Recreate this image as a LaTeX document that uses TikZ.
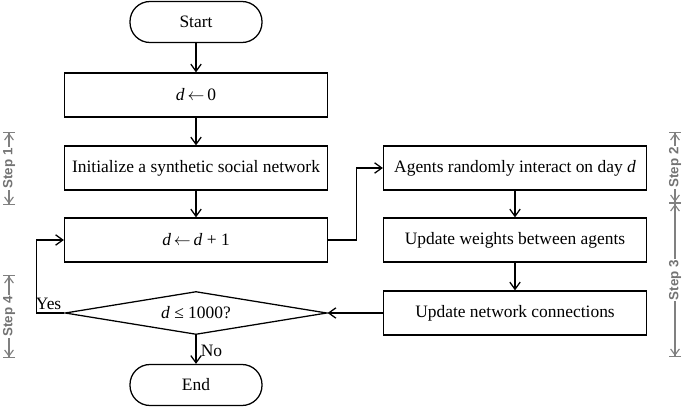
\documentclass[tikz,border=0pt]{standalone}
\usepackage{fontspec}
\setmainfont{Liberation Serif}
\setsansfont{Liberation Sans}
\usetikzlibrary{shapes.geometric,arrows.meta}

\begin{document}
\begin{tikzpicture}[font=\fontsize{12.4}{14}\selectfont]
    % Stili
    \tikzstyle{box}=[draw, line width=0.9pt, minimum width=6.575cm, minimum height=1.1cm]
    \tikzstyle{terminal}=[draw, line width=0.9pt, rounded corners=0.5cm, minimum width=3.3cm, minimum height=1.025cm]
    \tikzstyle{decision}=[draw, line width=0.9pt, diamond, aspect=6, inner sep=1pt, minimum width=6.55cm, minimum height=1.075cm]
    \tikzstyle{flow}=[-{Straight Barb[length=1.8mm,width=2.6mm]}, line width=0.9pt]
    \tikzstyle{stepline}=[gray, line width=0.8pt, {Bar[width=3mm] Straight Barb[length=1.5mm,width=2.2mm]}-{Straight Barb[length=1.5mm,width=2.2mm] Bar[width=3mm]}]
    \tikzstyle{steplabel}=[gray!90!black, fill=white, rotate=90, inner sep=1pt, font=\sffamily\bfseries\fontsize{9.5}{10}\selectfont]

    \useasboundingbox (0,0) rectangle (17.125,-10.225);

    % Colonna sinistra
    \node[terminal] (n_start) at (4.9,-0.55) {Start};
    \node[box] (n_zero) at (4.9,-2.375) {\textit{d}\,$\leftarrow$\,0};
    \node[box] (n_init) at (4.9,-4.2) {Initialize a synthetic social network};
    \node[box] (n_incr) at (4.9,-6.0) {\textit{d}\,$\leftarrow$\,\textit{d} + 1};
    \node[decision] (n_check) at (4.9,-7.825) {\textit{d} ≤ 1000?};
    \node[terminal] (n_end) at (4.9,-9.625) {End};

    % Colonna destra
    \node[box] (n_agents) at (12.875,-4.2) {Agents randomly interact on day \textit{d}};
    \node[box] (n_weights) at (12.875,-6.0) {Update weights between agents};
    \node[box] (n_network) at (12.875,-7.825) {Update network connections};

    % Frecce
    \draw[flow] (n_start) -- (n_zero);
    \draw[flow] (n_zero) -- (n_init);
    \draw[flow] (n_init) -- (n_incr);
    \draw[flow] (n_incr.east) -- ++(0.7,0) |- (n_agents.west);
    \draw[flow] (n_agents) -- (n_weights);
    \draw[flow] (n_weights) -- (n_network);
    \draw[flow] (n_network) -- (n_check);
    \draw[flow] (n_check.west) -- ++(-0.7,0) |- (n_incr.west);
    \node[anchor=south east, inner sep=2pt] (l_yes) at (n_check.west) {Yes};
    \draw[flow] (n_check) -- node[right, inner sep=3pt, yshift=-1pt] (l_no) {No} (n_end);

    % Passi
    \coordinate (s1_top) at (0.225,-3.3);
    \coordinate (s1_bot) at (0.225,-5.125);
    \coordinate (s4_top) at (0.225,-6.875);
    \coordinate (s4_bot) at (0.225,-8.95);
    \coordinate (s2_top) at (16.875,-3.3);
    \coordinate (s2_bot) at (16.875,-5.075);
    \coordinate (s3_bot) at (16.875,-8.925);
    \draw[stepline] (s1_top) -- node[steplabel] (l_s1) {Step 1} (s1_bot);
    \draw[stepline] (s4_top) -- node[steplabel] (l_s4) {Step 4} (s4_bot);
    \draw[stepline] (s2_top) -- node[steplabel] (l_s2) {Step 2} (s2_bot);
    \draw[stepline] (s2_bot) -- node[steplabel] (l_s3) {Step 3} (s3_bot);
\end{tikzpicture}
\end{document}
